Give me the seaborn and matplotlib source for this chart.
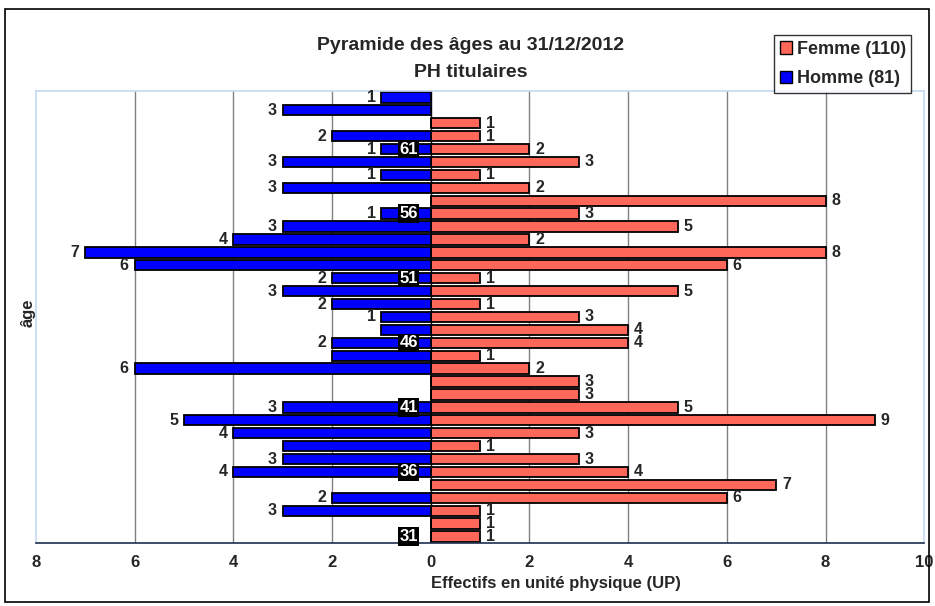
import pandas as pd
import seaborn as sns
import matplotlib.pyplot as plt
from matplotlib.patches import Rectangle, Patch

# ages from 65 (top) down to 31 (bottom)
ages = list(range(65, 30, -1))
femme = [0, 0, 1, 1, 2, 3, 1, 2, 8, 3, 5, 2, 8, 6, 1, 5, 1, 3, 4, 4, 1, 2, 3, 3,
         5, 9, 3, 1, 3, 4, 7, 6, 1, 1, 1]
homme = [1, 3, 0, 2, 1, 3, 1, 3, 0, 1, 3, 4, 7, 6, 2, 3, 2, 1, 1, 2, 2, 6, 0, 0,
         3, 5, 4, 3, 3, 4, 0, 2, 3, 0, 0]
# male labels hidden in the original for these ages
homme_no_label = [47, 45, 38]
age_labels = [31, 36, 41, 46, 51, 56, 61]
x_ticks = [-8, -6, -4, -2, 0, 2, 4, 6, 8, 10]

df = pd.DataFrame({'age': ages, 'femme': femme, 'homme': [-v for v in homme]})

sns.set_style('white')
plt.rcParams['font.family'] = ['Liberation Sans', 'DejaVu Sans']

fig = plt.figure(figsize=(9.35, 6.06), dpi=100)
ax = fig.add_axes([0.0385, 0.104, 0.950, 0.746])

col_f = '#FF6859'
col_h = '#0000FF'
sns.barplot(ax=ax, data=df, x='femme', y='age', orient='h', native_scale=True,
            color=col_f, edgecolor='black', linewidth=1.3, width=0.8, saturation=1)
sns.barplot(ax=ax, data=df, x='homme', y='age', orient='h', native_scale=True,
            color=col_h, edgecolor='black', linewidth=1.3, width=0.8, saturation=1)

ax.set_xlim(-8, 10)
ax.set_ylim(30.5, 65.5)

# grid lines
for t in x_ticks[1:-1]:
    ax.axvline(t, color='#808080' if t != 0 else 'black', lw=1, zorder=0)

# value labels
for a, f, h in zip(ages, femme, homme):
    if f > 0:
        ax.text(f + 0.12, a, str(f), va='center', ha='left', fontsize=11.5, fontweight='bold')
    if h > 0 and a not in homme_no_label:
        ax.text(-h - 0.12, a, str(h), va='center', ha='right', fontsize=11.5, fontweight='bold')

# age category labels on the zero line
for a in age_labels:
    ax.text(-0.45, a, str(a), va='center', ha='center', fontsize=12, fontweight='bold',
            color='white', zorder=5,
            bbox=dict(boxstyle='square,pad=0.1', facecolor='black', edgecolor='none'))

ax.set_xticks(x_ticks)
ax.set_xticklabels([str(abs(t)) for t in x_ticks], fontsize=12, fontweight='bold')
ax.set_yticks([])
ax.tick_params(axis='x', length=4, width=1, color='#1f2f4f', direction='out', pad=5)
ax.set_xlabel('Effectifs en unité physique (UP)', fontsize=12, fontweight='bold')
ax.xaxis.set_label_coords(0.585, -0.072)
ax.set_ylabel('âge', fontsize=12, fontweight='bold')
ax.yaxis.set_label_coords(0.0, 0.51)

for side in ['top', 'left', 'right']:
    ax.spines[side].set_color('#c5d9f1')
    ax.spines[side].set_linewidth(1.2)
ax.spines['bottom'].set_color('#1f2f4f')
ax.spines['bottom'].set_linewidth(1.2)

fig.text(0.503, 0.925, 'Pyramide des âges au 31/12/2012', ha='center', va='center',
         fontsize=14, fontweight='bold')
fig.text(0.503, 0.881, 'PH titulaires', ha='center', va='center',
         fontsize=14, fontweight='bold')

handles = [Patch(facecolor=col_f, edgecolor='black'), Patch(facecolor=col_h, edgecolor='black')]
leg = fig.legend(handles, ['Femme (110)', 'Homme (81)'], loc='upper left',
                 bbox_to_anchor=(0.828, 0.942), frameon=True, fancybox=False,
                 prop={'weight': 'bold', 'size': 13}, handlelength=0.7, handleheight=0.7,
                 handletextpad=0.25, borderpad=0.3, labelspacing=0.7, borderaxespad=0)
leg.get_frame().set_edgecolor('black')
leg.get_frame().set_linewidth(1)

fig.patches.append(Rectangle((0.005, 0.006), 0.989, 0.979, transform=fig.transFigure,
                             fill=False, edgecolor='black', lw=1.2))

fig.savefig('out.png', dpi=100)
